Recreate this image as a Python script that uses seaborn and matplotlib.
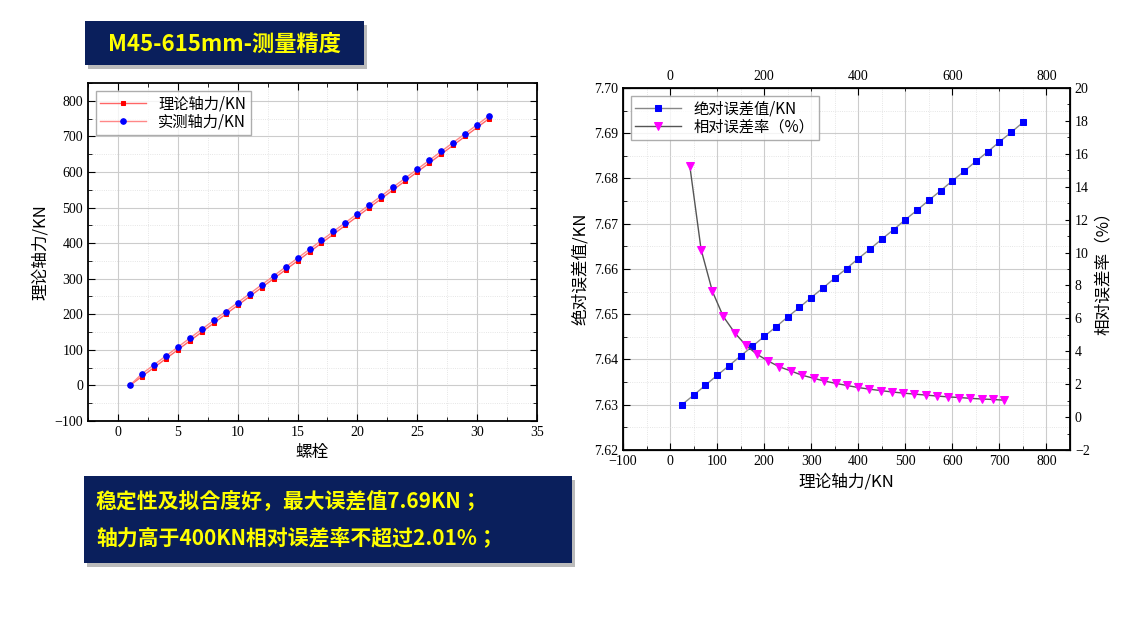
import matplotlib
matplotlib.use('Agg')
import matplotlib.pyplot as plt
import seaborn as sns
import pandas as pd
from matplotlib.patches import Rectangle
from matplotlib.ticker import MultipleLocator, AutoMinorLocator
from matplotlib import font_manager

# pick whichever CJK family name matplotlib actually registered
names = {f.name for f in font_manager.fontManager.ttflist}
cjk_opts = [n for n in names if 'CJK' in n]
cjk_pref = [n for n in ['Noto Sans CJK SC', 'Noto Sans CJK JP', 'Noto Sans CJK TC',
                        'Noto Sans CJK KR'] if n in names]
cjk = (cjk_pref or sorted(cjk_opts) or ['DejaVu Sans'])[0]
plt.rcParams['font.family'] = ['Liberation Serif', cjk]

# left chart data
bolts = list(range(1, 32))
theory = [0, 25, 50, 75, 100, 125, 150, 175, 200, 225, 250, 275, 300, 325, 350, 375,
          400, 425, 450, 475, 500, 525, 550, 575, 600, 625, 650, 675, 700, 725, 750]
measured = [0, 32.6, 57.6, 82.6, 107.6, 132.7, 157.7, 182.7, 207.7, 232.7, 257.7, 282.7,
            307.7, 332.7, 357.7, 382.7, 407.7, 432.7, 457.7, 482.7, 507.7, 532.7, 557.7,
            582.7, 607.7, 632.7, 657.7, 682.7, 707.7, 732.7, 757.7]

# right chart data
abs_x = [25, 50, 75, 100, 125, 150, 175, 200, 225, 250, 275, 300, 325, 350, 375,
         400, 425, 450, 475, 500, 525, 550, 575, 600, 625, 650, 675, 700, 725, 750]
abs_err = [7.6300, 7.6321, 7.6343, 7.6365, 7.6386, 7.6408, 7.6429, 7.6451, 7.6472, 7.6494,
           7.6515, 7.6537, 7.6558, 7.6580, 7.6601, 7.6623, 7.6644, 7.6666, 7.6687, 7.6709,
           7.6730, 7.6752, 7.6773, 7.6795, 7.6816, 7.6838, 7.6859, 7.6881, 7.6902, 7.6924]
rel_x = [42, 66, 90, 113, 138, 161, 184, 209, 232, 258, 280, 305, 328, 352, 376,
         399, 423, 448, 471, 495, 518, 543, 567, 590, 614, 638, 662, 686, 709]
rel_err = [15.26, 10.18, 7.64, 6.12, 5.10, 4.37, 3.83, 3.40, 3.06, 2.79, 2.55, 2.36, 2.19,
           2.05, 1.92, 1.80, 1.70, 1.61, 1.53, 1.46, 1.40, 1.34, 1.28, 1.23, 1.19, 1.14,
           1.10, 1.07, 1.03]

W, H = 1131, 624
fig = plt.figure(figsize=(W / 100, H / 100), dpi=100)

def rect(x0, y0, x1, y1):
    return [x0 / W, 1 - y1 / H, (x1 - x0) / W, (y1 - y0) / H]

def style(ax):
    ax.xaxis.set_minor_locator(AutoMinorLocator(2))
    ax.yaxis.set_minor_locator(AutoMinorLocator(2))
    ax.grid(True, which='major', color='#cccccc', lw=0.8)
    ax.grid(True, which='minor', color='#dddddd', lw=0.6, ls=':')
    ax.tick_params(which='both', direction='in', top=True, right=True, labelsize=10)
    ax.tick_params(which='major', length=5)
    ax.tick_params(which='minor', length=3)
    for s in ax.spines.values():
        s.set_linewidth(1.3)

# left
ax1 = fig.add_axes(rect(88, 83, 537, 421))
df1 = pd.DataFrame({'bolt': bolts, 'theory': theory, 'measured': measured})
sns.lineplot(data=df1, x='bolt', y='theory', ax=ax1, color='#ff6666', lw=1,
             marker='s', markersize=3.5, markerfacecolor='red', markeredgecolor='red',
             label='理论轴力/KN')
sns.lineplot(data=df1, x='bolt', y='measured', ax=ax1, color='#ff8888', lw=1,
             marker='o', markersize=4, markerfacecolor='blue', markeredgecolor='blue',
             label='实测轴力/KN')
ax1.set_xlim(-2.5, 35)
ax1.set_ylim(-100, 850)
ax1.xaxis.set_major_locator(MultipleLocator(5))
ax1.yaxis.set_major_locator(MultipleLocator(100))
style(ax1)
ax1.set_xlabel('螺栓', fontfamily=cjk, fontsize=12)
ax1.set_ylabel('理论轴力/KN', fontfamily=cjk, fontsize=12)
ax1.legend(loc='upper left', prop={'family': cjk, 'size': 11}, fancybox=False,
           edgecolor='#999999', handlelength=3, borderpad=0.3, labelspacing=0.1)

# right
ax2 = fig.add_axes(rect(623, 88, 1070, 450))
df2 = pd.DataFrame({'x': abs_x, 'err': abs_err})
df3 = pd.DataFrame({'x': rel_x, 'rel': rel_err})
sns.lineplot(data=df2, x='x', y='err', ax=ax2, color='#888888', lw=1,
             marker='s', markersize=5, markerfacecolor='blue', markeredgecolor='blue',
             label='绝对误差值/KN', legend=False)
ax2.set_xlim(-100, 850)
ax2.set_ylim(7.62, 7.70)
ax2.xaxis.set_major_locator(MultipleLocator(100))
ax2.yaxis.set_major_locator(MultipleLocator(0.01))
style(ax2)
ax2.tick_params(right=False, top=False, which='both')
ax2.set_xlabel('理论轴力/KN', fontfamily=cjk, fontsize=12)
ax2.set_ylabel('绝对误差值/KN', fontfamily=cjk, fontsize=12)

ax3 = ax2.twinx()
sns.lineplot(data=df3, x='x', y='rel', ax=ax3, color='#555555', lw=1,
             marker='v', markersize=6, markerfacecolor='magenta', markeredgecolor='magenta',
             label='相对误差率（%）', legend=False)
ax3.set_ylim(-2, 20)
ax3.yaxis.set_major_locator(MultipleLocator(2))
ax3.yaxis.set_minor_locator(AutoMinorLocator(2))
ax3.tick_params(which='both', direction='in', labelsize=10)
ax3.set_ylabel('相对误差率（%）', fontfamily=cjk, fontsize=12)

ax4 = ax2.twiny()
ax4.set_xlim(ax2.get_xlim())
ax4.set_xticks([0, 200, 400, 600, 800])
ax4.xaxis.set_minor_locator(MultipleLocator(100))
ax4.tick_params(which='both', direction='in', labelsize=10)
ax4.tick_params(which='major', length=5)

h1, l1 = ax2.get_legend_handles_labels()
h2, l2 = ax3.get_legend_handles_labels()
ax3.legend(h1 + h2, l1 + l2, loc='upper left', prop={'family': cjk, 'size': 11},
           fancybox=False, edgecolor='#999999', handlelength=3, borderpad=0.3,
           labelspacing=0.1)

# text boxes
for (x0, y0, x1, y1) in [(85, 21, 364, 65), (84, 476, 572, 563)]:
    fig.patches.append(Rectangle((x0 / W + 0.003, 1 - y1 / H - 0.006), (x1 - x0) / W,
                                 (y1 - y0) / H, transform=fig.transFigure,
                                 facecolor='#bbbbbb', zorder=0))
    fig.patches.append(Rectangle((x0 / W, 1 - y1 / H), (x1 - x0) / W, (y1 - y0) / H,
                                 transform=fig.transFigure, facecolor='#0a1f5c', zorder=1))
fig.text(224 / W, 1 - 44 / H, 'M45-615mm-测量精度', color='#ffff00', fontsize=16,
         fontweight='bold', ha='center', va='center', fontfamily=cjk)
fig.text(96 / W, 1 - 502 / H, '稳定性及拟合度好，最大误差值7.69KN；', color='#ffff00',
         fontsize=15, fontweight='bold', va='center', fontfamily=cjk)
fig.text(96 / W, 1 - 538 / H, '轴力高于400KN相对误差率不超过2.01%；', color='#ffff00',
         fontsize=15, fontweight='bold', va='center', fontfamily=cjk)

fig.savefig('out.png', dpi=100)
